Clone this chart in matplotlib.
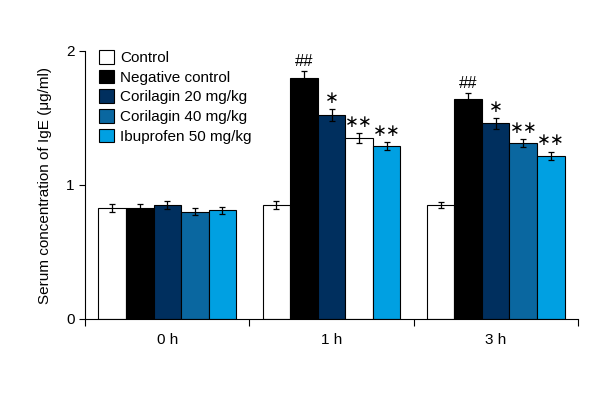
import numpy as np
import matplotlib
matplotlib.use('Agg')
import matplotlib.pyplot as plt
from matplotlib.patches import Patch

plt.rcParams['font.family'] = ['Liberation Sans', 'DejaVu Sans']

groups = ['0 h', '1 h', '3 h']
series = ['Control', 'Negative control', 'Corilagin 20 mg/kg', 'Corilagin 40 mg/kg', 'Ibuprofen 50 mg/kg']
colors = ['white', 'black', '#002f5e', '#0a67a0', '#00a0e2']

control = [0.83, 0.85, 0.85]
negative = [0.83, 1.80, 1.64]
cor20 = [0.85, 1.52, 1.46]
cor40 = [0.80, 1.35, 1.31]
ibu = [0.81, 1.29, 1.22]

control_err = [0.03, 0.03, 0.02]
negative_err = [0.03, 0.05, 0.05]
cor20_err = [0.03, 0.045, 0.04]
cor40_err = [0.025, 0.04, 0.03]
ibu_err = [0.025, 0.03, 0.03]

marks = [['', '', ''], ['', '##', '##'], ['', '*', '*'], ['', '**', '**'], ['', '**', '**']]

values = [control, negative, cor20, cor40, ibu]
errors = [control_err, negative_err, cor20_err, cor40_err, ibu_err]

fig = plt.figure(figsize=(6, 4), dpi=100)
ax = fig.add_axes([0.142, 0.2025, 0.821, 0.67])

x = np.arange(len(groups))
w = 0.168
for i in range(len(series)):
    pos = x + (i - 2) * w
    cols = [colors[i]] * len(groups)
    if i == 3:
        cols[1] = 'white'  # as in the original figure
    ax.bar(pos, values[i], w, color=cols, edgecolor='black', linewidth=0.8,
           yerr=errors[i], capsize=2.5, error_kw=dict(elinewidth=0.9, capthick=0.9, ecolor='black'))
    for j in range(len(groups)):
        m = marks[i][j]
        if m:
            if '*' in m:
                ax.text(pos[j], values[i][j] + errors[i][j] + 0.015, m.replace('*', '∗'),
                        ha='center', va='bottom', fontsize=12, family='DejaVu Sans')
            else:
                ax.text(pos[j], values[i][j] + errors[i][j] + 0.015, m,
                        ha='center', va='bottom', fontsize=12)

ax.set_xlim(-0.5, 2.5)
ax.set_ylim(0, 2)
ax.set_yticks([0, 1, 2])
ax.set_yticklabels(['0', '1', '2'], fontsize=11)
ax.set_xticks([-0.5, 0.5, 1.5, 2.5])
ax.set_xticklabels([])
ax.set_xticks(x, minor=True)
ax.set_xticklabels(groups, minor=True, fontsize=11)
ax.tick_params(axis='x', which='minor', length=0, pad=10)
ax.tick_params(axis='x', which='major', length=5, direction='out')
ax.tick_params(axis='y', length=4)
ax.spines['top'].set_visible(False)
ax.spines['right'].set_visible(False)
ax.set_ylabel('Serum concentration of IgE (μg/ml)', fontsize=11, labelpad=10)

handles = [Patch(facecolor=c, edgecolor='black', linewidth=0.8) for c in colors]
ax.legend(handles, series, loc='upper left', bbox_to_anchor=(0.0, 1.055), frameon=False,
          fontsize=11, handlelength=1.0, handleheight=1.0, handletextpad=0.4, labelspacing=0.3)

plt.savefig('out.png')
